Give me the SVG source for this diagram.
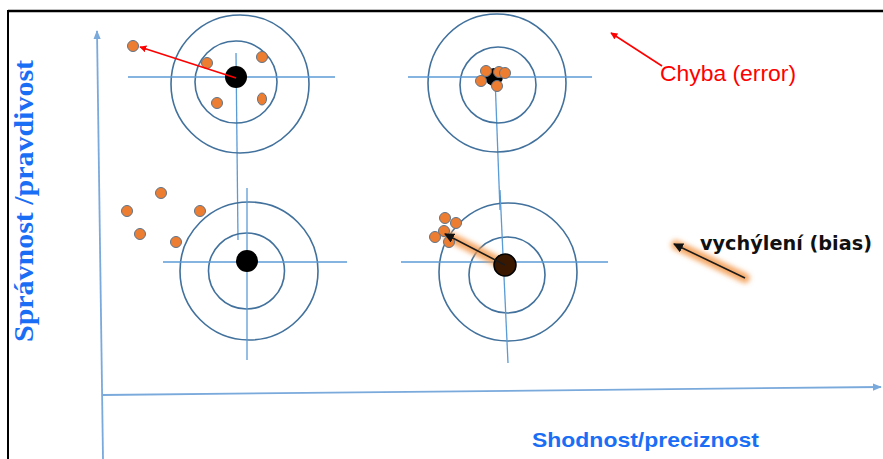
<svg xmlns="http://www.w3.org/2000/svg" width="883" height="459" viewBox="0 0 883 459">
  <style>
    .ring { fill: none; stroke: #41719c; stroke-width: 1.6; }
    .cross { stroke: #5b9bd5; stroke-width: 1.3; fill: none; }
    .axis { stroke: #7aa9dc; stroke-width: 1.8; fill: none; }
    .shot { fill: #ed7d31; stroke: #5f7489; stroke-width: 1; }
    .bull { fill: #000; }
    .err { stroke: #ff0000; stroke-width: 1.6; fill: none; }
    .bias { stroke: #1a1a1a; stroke-width: 1.6; fill: none; }
    .glow { stroke: #f39a4e; stroke-width: 10; stroke-linecap: round; fill: none; opacity: 0.85; }
  </style>
  <defs>
    <marker id="arrRed" viewBox="0 0 10 10" refX="9" refY="5" markerWidth="7" markerHeight="7" markerUnits="userSpaceOnUse" orient="auto">
      <path d="M0,0 L10,5 L0,10 z" fill="#ff0000"/>
    </marker>
    <marker id="arrBlack" viewBox="0 0 10 10" refX="9" refY="5" markerWidth="10" markerHeight="10" markerUnits="userSpaceOnUse" orient="auto">
      <path d="M0,0 L10,5 L0,10 z" fill="#111"/>
    </marker>
    <marker id="arrBlue" viewBox="0 0 10 10" refX="9" refY="5" markerWidth="9" markerHeight="9" markerUnits="userSpaceOnUse" orient="auto">
      <path d="M0,1 L10,5 L0,9 z" fill="#7aa9dc"/>
    </marker>
    <filter id="blur" x="-30%" y="-60%" width="160%" height="220%">
      <feGaussianBlur stdDeviation="2.5"/>
    </filter>
  </defs>
  <rect width="883" height="459" fill="#fff"/>
  <!-- frame -->
  <g id="frame">
    <line x1="8" y1="11" x2="883" y2="11" stroke="#000" stroke-width="2.5"/>
    <line x1="8" y1="10" x2="8" y2="459" stroke="#000" stroke-width="2"/>
  </g>
  <!-- axes -->
  <g id="axes">
    <line class="axis" x1="103" y1="459" x2="97" y2="31" marker-end="url(#arrBlue)"/>
    <line class="axis" x1="103" y1="395" x2="881" y2="387" marker-end="url(#arrBlue)"/>
  </g>
  <g id="connectors">
    <line class="cross" x1="236" y1="53" x2="238" y2="240"/>
    <line class="cross" x1="495" y1="77" x2="500" y2="210"/>
  </g>
  <!-- target 1: top-left -->
  <g id="target-tl">
    <circle class="ring" cx="240" cy="84" r="69"/>
    <circle class="ring" cx="236" cy="82" r="41"/>
    <line class="cross" x1="128" y1="77" x2="335" y2="77"/>
    <circle class="bull" cx="236" cy="77" r="11"/>
    <circle class="shot" cx="133" cy="46" r="5.5"/>
    <circle class="shot" cx="207" cy="63" r="5.5"/>
    <circle class="shot" cx="262" cy="57" r="5.5"/>
    <circle class="shot" cx="217" cy="103" r="5.5"/>
    <ellipse class="shot" cx="262" cy="99" rx="4.5" ry="6"/>
    <line class="err" x1="236" y1="78" x2="140" y2="47" marker-end="url(#arrRed)"/>
  </g>
  <!-- target 2: top-right -->
  <g id="target-tr">
    <circle class="ring" cx="497" cy="83" r="69"/>
    <circle class="ring" cx="498" cy="85" r="38"/>
    <line class="cross" x1="408" y1="77" x2="592" y2="77"/>
    <circle class="bull" cx="494" cy="77" r="9"/>
    <circle class="shot" cx="486" cy="71" r="5.5"/>
    <circle class="shot" cx="481" cy="81" r="5.5"/>
    <circle class="shot" cx="497" cy="86" r="5.5"/>
    <circle class="shot" cx="499" cy="72" r="5.5"/>
    <circle class="shot" cx="505" cy="73" r="5.5"/>
  </g>
  <!-- target 3: bottom-left -->
  <g id="target-bl">
    <circle class="ring" cx="249" cy="271" r="69"/>
    <circle class="ring" cx="246.5" cy="271" r="38"/>
    <line class="cross" x1="163" y1="262" x2="347" y2="262"/>
    <line class="cross" x1="247" y1="188" x2="247" y2="360"/>
    <circle class="bull" cx="247" cy="261" r="11"/>
    <circle class="shot" cx="161" cy="193" r="5.5"/>
    <circle class="shot" cx="127" cy="211" r="5.5"/>
    <circle class="shot" cx="200" cy="211" r="5.5"/>
    <circle class="shot" cx="140" cy="234" r="5.5"/>
    <circle class="shot" cx="176" cy="242" r="5.5"/>
  </g>
  <!-- target 4: bottom-right -->
  <g id="target-br">
    <circle class="ring" cx="508" cy="272" r="69"/>
    <circle class="ring" cx="507" cy="275" r="38"/>
    <line class="cross" x1="401" y1="262" x2="608" y2="262"/>
    <line class="cross" x1="500" y1="190" x2="508" y2="363"/>
    <line class="glow" x1="503" y1="264" x2="448" y2="236" filter="url(#blur)"/>
    <circle cx="505" cy="265" r="11" fill="#3a1800" stroke="#000" stroke-width="1.5"/>
    <circle class="shot" cx="445" cy="218" r="5.5"/>
    <circle class="shot" cx="456" cy="223" r="5.5"/>
    <circle class="shot" cx="444" cy="231" r="5.5"/>
    <circle class="shot" cx="435" cy="237" r="5.5"/>
    <circle class="shot" cx="449" cy="242" r="5.5"/>
    <line class="bias" x1="505" y1="265" x2="445" y2="234" marker-end="url(#arrBlack)"/>
  </g>
  <!-- legend: error -->
  <g id="legend-error">
    <line class="err" x1="662" y1="66" x2="611" y2="33" marker-end="url(#arrRed)"/>
    <text x="660" y="81" font-family="'Liberation Sans', Arial, sans-serif" font-size="22" fill="#ff0000" textLength="136" lengthAdjust="spacingAndGlyphs">Chyba (error)</text>
  </g>
  <!-- legend: bias -->
  <g id="legend-bias">
    <line class="glow" x1="745" y1="278" x2="676" y2="245" filter="url(#blur)"/>
    <line class="bias" x1="745" y1="278" x2="674" y2="244" marker-end="url(#arrBlack)"/>
    <text x="700" y="250" font-family="'DejaVu Sans', Verdana, sans-serif" font-weight="bold" font-size="19" fill="#111" textLength="172" lengthAdjust="spacingAndGlyphs">vychýlení (bias)</text>
  </g>
  <!-- axis labels -->
  <g id="labels">
    <text x="532" y="447" font-family="'Liberation Sans', Arial, sans-serif" font-weight="bold" font-size="21" fill="#1a6ef5" textLength="227" lengthAdjust="spacingAndGlyphs">Shodnost/preciznost</text>
    <text transform="translate(33,342) rotate(-90)" x="0" y="0" font-family="'Liberation Serif', 'Times New Roman', serif" font-weight="bold" font-size="28" fill="#1a6ef5" textLength="282" lengthAdjust="spacingAndGlyphs">Správnost /pravdivost</text>
  </g>
</svg>
